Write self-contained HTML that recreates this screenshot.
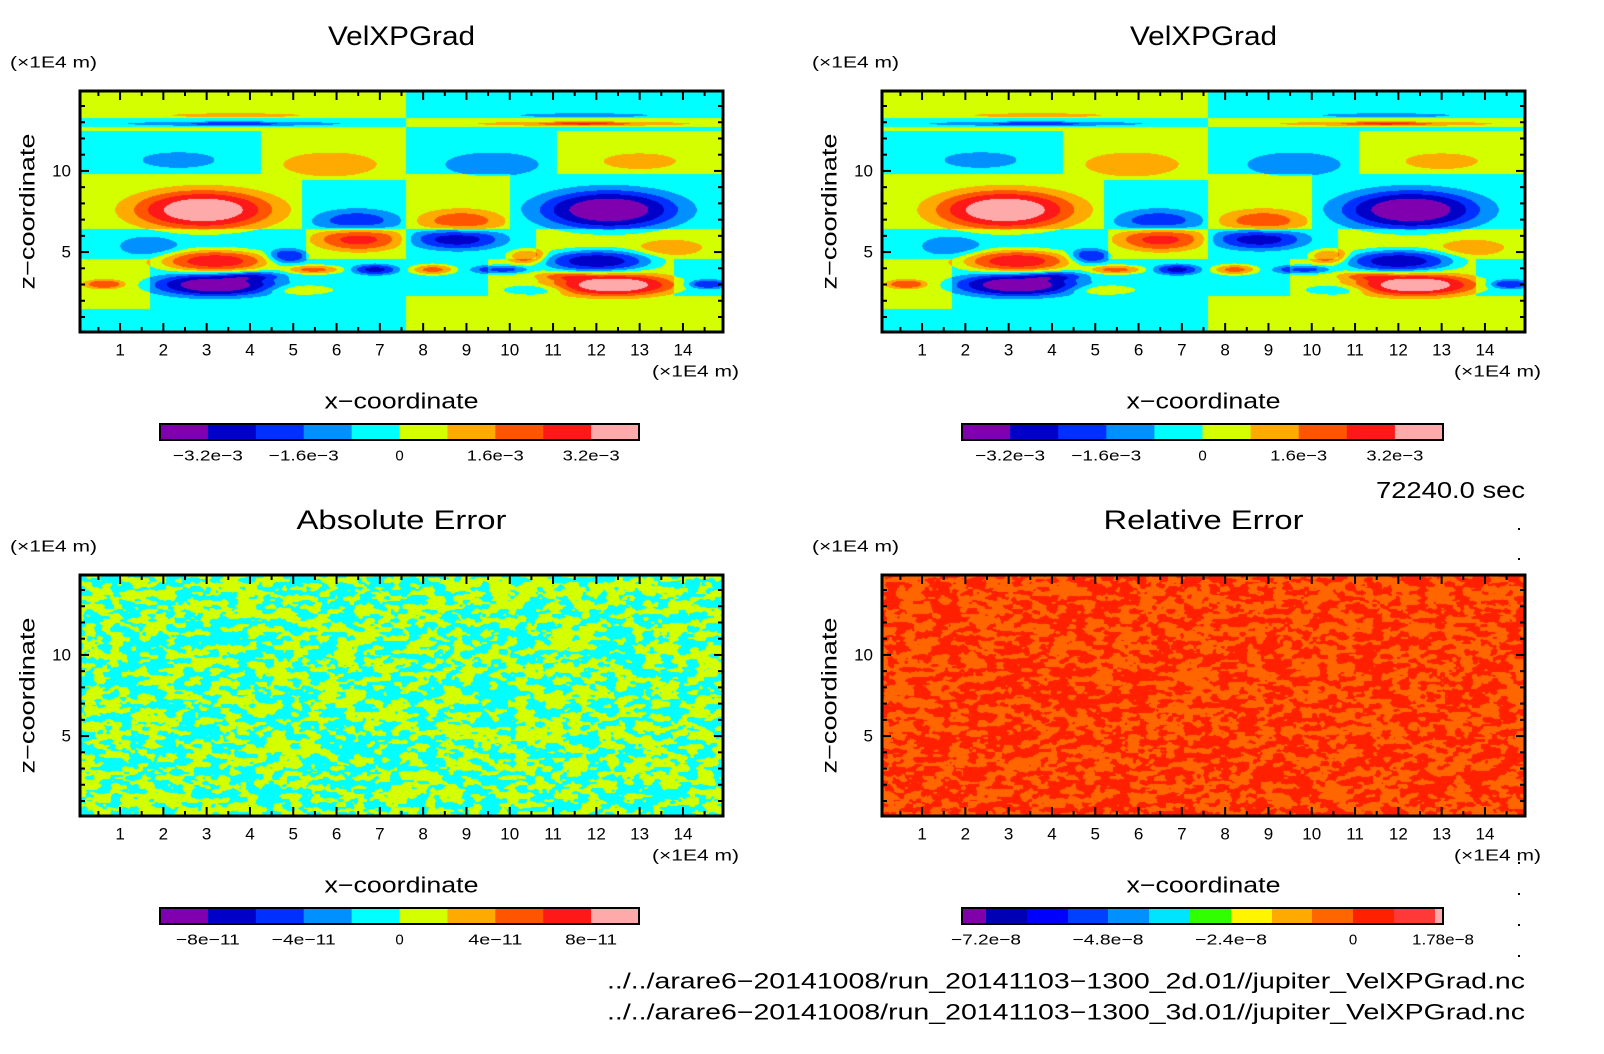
<!DOCTYPE html>
<html><head><meta charset="utf-8">
<style>
html,body{margin:0;padding:0;background:#fff;}
#wrap{position:relative;width:1604px;height:1054px;overflow:hidden;background:#fff;}
canvas{position:absolute;}
svg{position:absolute;left:0;top:0;}
text{font-family:"Liberation Sans",sans-serif;fill:#000;}
</style></head>
<body>
<div id="wrap">
<canvas id="c0"></canvas>
<canvas id="c1"></canvas>
<canvas id="c2"></canvas>
<canvas id="c3"></canvas>
<svg id="ov" width="1604" height="1054"></svg>
</div>
<script>
// ---- data ----
const levelStep = 0.0008;
const contourColors = ["#8000b0","#0000c8","#0030ff","#0090ff","#00ffff","#d4ff00","#ffaa00","#ff5500","#ff1818","#ffaaaa"];
const relColors = ["#8000aa","#0000b4","#0000ff","#0040ff","#0090ff","#00e4ff","#30ff00","#fff500","#ffaa00","#ff6600","#ff2000","#ff3838","#ffaaaa"];
const xTickLabels = [1,2,3,4,5,6,7,8,9,10,11,12,13,14];
const zTickLabels = [5,10];
const cbLabelsTop = ["\u22123.2e\u22123","\u22121.6e\u22123","0","1.6e\u22123","3.2e\u22123"];
const cbLabelsAbs = ["\u22128e\u221211","\u22124e\u221211","0","4e\u221211","8e\u221211"];
const cbLabelsRel = ["\u22127.2e\u22128","\u22124.8e\u22128","\u22122.4e\u22128","0","1.78e\u22128"];
// background sign regions [x0,x1,z0,z1,sign]
const bgRegions = [
 [0,7.6,13.26,16,1],[0,7.6,12.68,13.26,-1],[0,7.6,12.47,12.68,1],
 [0,4.25,9.84,12.47,-1],[4.25,7.6,9.84,12.47,1],
 [0,5.2,6.41,9.84,1],[5.2,7.6,6.41,9.42,-1],[5.2,7.6,9.42,9.84,1],
 [0,5.3,4.6,6.41,-1],[5.3,7.6,4.6,6.41,1],
 [0,1.7,1.5,4.6,1],[1.7,7.6,0,4.6,-1],[0,1.7,0,1.5,-1],
 [7.6,16,13.26,16,-1],[7.6,16,12.68,13.26,1],[7.6,16,12.47,12.68,-1],
 [7.6,11.1,9.84,12.47,-1],[11.1,16,9.84,12.47,1],
 [7.6,10.0,6.41,9.84,1],[10.0,16,6.41,9.84,-1],
 [7.6,10.6,4.6,6.41,-1],[10.6,16,4.6,6.41,1],
 [7.6,9.5,2.3,4.6,-1],[9.5,13.8,2.3,4.6,1],[13.8,16,2.3,4.6,-1],
 [7.6,16,0,2.3,1]
];
// bumps: centres, widths, amplitudes
const bumpX = [2.92,12.29,2.35,5.85,9.59,13.0,3.67,3.63,3.63,11.72,11.72,11.72,8.88,6.47,6.51,8.79,1.68,13.71,3.2,4.86,10.4,12.01,3.2,12.39,4.15,11.25,5.47,9.83,6.89,8.22,0.64,14.56,5.19,10.59];
const bumpZ = [7.6,7.6,10.67,10.4,10.4,10.6,13.43,12.91,12.91,13.43,12.91,12.91,6.93,6.93,5.79,5.79,5.37,5.27,4.44,4.75,4.75,4.44,2.98,2.98,3.54,3.54,3.92,3.92,3.92,3.92,3.02,3.02,2.67,2.67];
const bumpSX = [1.25,1.25,0.68,0.88,0.88,0.68,1.2,2.2,0.8,1.2,2.2,0.8,0.75,0.75,0.75,0.8,0.55,0.6,1.0,0.35,0.35,1.0,1.1,1.1,0.5,0.5,0.5,0.5,0.4,0.4,0.35,0.35,0.6,0.6];
const bumpSZ = [0.95,0.95,0.39,0.6,0.6,0.39,0.1,0.12,0.08,0.1,0.12,0.08,0.55,0.55,0.55,0.5,0.5,0.4,0.55,0.35,0.35,0.55,0.55,0.55,0.2,0.2,0.22,0.22,0.25,0.25,0.22,0.22,0.25,0.25];
const bumpAmp = [3.4e-3,-3.4e-3,-1e-3,1e-3,-1e-3,1e-3,1e-3,-0.8e-3,-1.2e-3,-1e-3,0.8e-3,1.4e-3,1.6e-3,-1.6e-3,2.2e-3,-2.3e-3,-1e-3,1e-3,3.2e-3,-2e-3,2e-3,-3.2e-3,-3.4e-3,3.4e-3,-1.2e-3,1.2e-3,2.2e-3,-2.2e-3,-2.2e-3,2.2e-3,2e-3,-2e-3,1e-3,-1e-3];

// ---- layout ----
const PW=643, PH=241;
const panels=[{x:80,y:91},{x:882,y:91},{x:80,y:575},{x:882,y:575}];
const XMIN=0.075, XMAX=14.925, ZMIN=0.075, ZMAX=14.925;
function sx(p,x){return p.x+(x-XMIN)/(XMAX-XMIN)*PW;}
function sz(p,z){return p.y+PH-(z-ZMIN)/(ZMAX-ZMIN)*PH;}
function hex(c){return [parseInt(c.slice(1,3),16),parseInt(c.slice(3,5),16),parseInt(c.slice(5,7),16)];}

function field(x,z){
  let v=0;
  for(const r of bgRegions){ if(x>=r[0]&&x<r[1]&&z>=r[2]&&z<r[3]){v=0.0004*r[4];} }
  for(let i=0;i<bumpX.length;i++){
    const dx=(x-bumpX[i])/bumpSX[i], dz=(z-bumpZ[i])/bumpSZ[i];
    const r2=dx*dx+dz*dz;
    if(r2<30) v+=bumpAmp[i]*Math.exp(-0.5*Math.pow(r2,1.5));
  }
  return v;
}
(function(){
  const cols=contourColors.map(hex);
  const tmp=document.createElement('canvas');tmp.width=PW;tmp.height=PH;
  const ctx=tmp.getContext('2d');const img=ctx.createImageData(PW,PH);
  for(let j=0;j<PH;j++){const z=ZMAX-(j+0.5)/PH*(ZMAX-ZMIN);
    for(let i=0;i<PW;i++){const x=XMIN+(i+0.5)/PW*(XMAX-XMIN);
      let k=Math.floor(field(x,z)/levelStep)+5; k=Math.max(0,Math.min(9,k));
      const c=cols[k],o=(j*PW+i)*4;img.data[o]=c[0];img.data[o+1]=c[1];img.data[o+2]=c[2];img.data[o+3]=255;}}
  ctx.putImageData(img,0,0);
  for(const id of [0,1]){const cv=document.getElementById('c'+id);cv.width=PW;cv.height=PH;
    cv.style.left=panels[id].x+'px';cv.style.top=panels[id].y+'px';cv.getContext('2d').drawImage(tmp,0,0);}
})();
function h2(i,j,s){let n=i*374761393+j*668265263+s*1442695041;n=(n^(n>>>13))*1274126177;n=n^(n>>>16);return (n>>>0)/4294967295;}
function vnoise(x,y,s){const i=Math.floor(x),j=Math.floor(y),fx=x-i,fy=y-j;
  const ux=fx*fx*(3-2*fx),uy=fy*fy*(3-2*fy);
  const a=h2(i,j,s),b=h2(i+1,j,s),c=h2(i,j+1,s),d=h2(i+1,j+1,s);
  return a+(b-a)*ux+(c-a)*uy+(a-b-c+d)*ux*uy;}
function noisePanel(id,c1,c2,seed,thr){
  const cv=document.getElementById('c'+id);cv.width=PW;cv.height=PH;
  cv.style.left=panels[id].x+'px';cv.style.top=panels[id].y+'px';
  const ctx=cv.getContext('2d');const img=ctx.createImageData(PW,PH);
  const A=hex(c1),B=hex(c2);
  for(let j=0;j<PH;j++)for(let i=0;i<PW;i++){
    const v=0.65*vnoise(i/9,j/4.5,seed)+0.35*vnoise(i/4,j/2.5,seed+7);
    const c=v>thr?A:B;const o=(j*PW+i)*4;
    img.data[o]=c[0];img.data[o+1]=c[1];img.data[o+2]=c[2];img.data[o+3]=255;}
  ctx.putImageData(img,0,0);
}
noisePanel(2,"#d4ff00","#00ffff",3,0.5);
noisePanel(3,"#ff2000","#ff6600",11,0.5);

// ---- overlay ----
const NS="http://www.w3.org/2000/svg";const ov=document.getElementById('ov');
function el(tag,attrs,parent){const e=document.createElementNS(NS,tag);for(const k in attrs)e.setAttribute(k,attrs[k]);(parent||ov).appendChild(e);return e;}
function txt(s,x,y,size,anchor,parent,len){const t=el('text',{x:x,y:y,'font-size':size,'text-anchor':anchor||'middle','dominant-baseline':'central'},parent);
  if(len){t.setAttribute('textLength',len);t.setAttribute('lengthAdjust','spacingAndGlyphs');}
  t.textContent=s;return t;}
const titles=["VelXPGrad","VelXPGrad","Absolute Error","Relative Error"];
const titleLens=[147,147,210,200];
panels.forEach((p,pi)=>{
  const g=el('g',{});
  
  
  for(let k=1;k<=29;k++){const xv=k*0.5, X=sx(p,xv), L=(k%2===0)?9:5;
    const t1=el('line',{x1:X,y1:p.y+PH,x2:X,y2:p.y+PH-L,stroke:'#000','stroke-width':2},g);
    
    el('line',{x1:X,y1:p.y,x2:X,y2:p.y+L,stroke:'#000','stroke-width':2},g);}
  for(let k=1;k<=14;k++){const Y=sz(p,k),L=(k%5===0)?9:5;
    const t2=el('line',{x1:p.x,y1:Y,x2:p.x+L,y2:Y,stroke:'#000','stroke-width':2},g);
    
    el('line',{x1:p.x+PW,y1:Y,x2:p.x+PW-L,y2:Y,stroke:'#000','stroke-width':2},g);}
  const fr=el('rect',{x:p.x,y:p.y,width:PW,height:PH,fill:'none',stroke:'#000','stroke-width':3},g);
  
  xTickLabels.forEach(v=>{const t=txt(String(v),sx(p,v),p.y+PH+18,17,'middle',g);
    });
  zTickLabels.forEach(v=>{const t=txt(String(v),p.x-9,sz(p,v),17,'end',g);
    });
  const tt=txt(titles[pi],p.x+PW/2,p.y-55,27,'middle',g,titleLens[pi]);
  
  const zu=txt("(\u00d71E4 m)",p.x-70,p.y-28,16,'start',g,87);
  
  const xu=txt("(\u00d71E4 m)",p.x+PW+16,p.y+PH+40,16,'end',g,87);
  
  const xl=txt("x\u2212coordinate",p.x+PW/2,p.y+PH+69,22,'middle',g,154);
  
  const zl=txt("z\u2212coordinate",0,0,21,'middle',g,156);
  zl.setAttribute('transform','translate('+(p.x-52)+','+(p.y+PH/2)+') rotate(-90)');
  
});
function colorbar(x0,y0,w,colors,edges,labels,labelPos,lens,name){
  const g=el('g',{});
  
  
  for(let i=0;i<colors.length;i++){
    const r=el('rect',{x:x0+edges[i]*w,y:y0,width:(edges[i+1]-edges[i])*w+0.5,height:16,fill:colors[i]},g);
    }
  el('rect',{x:x0,y:y0,width:w,height:16,fill:'none',stroke:'#000','stroke-width':2},g);
  labels.forEach((s,i)=>{const t=txt(s,x0+labelPos[i]*w,y0+32,15,'middle',g,lens[i]);
    });
}
const even10=[...Array(11).keys()].map(i=>i/10);
const pos10=[0.1,0.3,0.5,0.7,0.9];
const relEdgesPx=[962,986,1027,1068,1108,1149,1190,1231,1272,1312,1353,1394,1435,1443];
const relEdges=relEdgesPx.map(v=>(v-962)/481);
const relPos=[986,1108,1231,1353,1443].map(v=>(v-962)/481);
colorbar(160,424,479,contourColors,even10,cbLabelsTop,pos10,[70,70,0,57,57],'colorbar-top-left');
colorbar(962,424,481,contourColors,even10,cbLabelsTop,pos10,[70,70,0,57,57],'colorbar-top-right');
colorbar(160,908,479,contourColors,even10,cbLabelsAbs,pos10,[64,64,0,54,52],'colorbar-absolute-error');
colorbar(962,908,481,relColors,relEdges,cbLabelsRel,relPos,[70,71,72,0,62],'colorbar-relative-error');
const tm=txt("72240.0 sec",1525,490,23,'end',null,149);

const f1=txt("../../arare6\u221220141008/run_20141103\u22121300_2d.01//jupiter_VelXPGrad.nc",1525,981,22,'end',null,918);

const f2=txt("../../arare6\u221220141008/run_20141103\u22121300_3d.01//jupiter_VelXPGrad.nc",1525,1012,22,'end',null,918);

[528,558,862,893,924,955].forEach(y=>{const d=el('rect',{x:1518,y:y,width:2,height:2,fill:'#000'});
  });
</script>
</body></html>
